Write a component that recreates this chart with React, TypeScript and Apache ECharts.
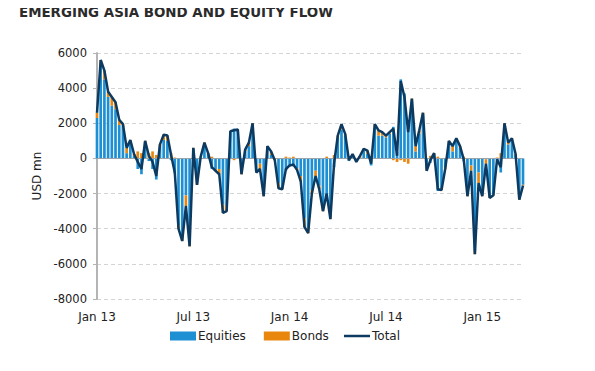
import React, { useEffect, useRef } from "react";
import * as echarts from "echarts";

const totalFlow = [
  2600, 5600, 5000, 3800, 3500, 3200, 2200, 1950, 600, 1050,
  250, -200, -600, 1000, 150, -200, -1000, 800, 1350, 1300,
  200, -800, -4000, -4700, -2700, -5000, 600, -1500, 100, 900,
  300, -500, -700, -900, -3100, -3000, 1550, 1600, 1650, -900,
  500, 900, 2000, -800, -600, -2150, 700, 400, -100, -1700,
  -1750, -600, -400, -350, -650, -1300, -3900, -4250, -2000, -1000,
  -1750, -3000, -2000, -3450, -300, 1300, 1950, 1400, -100, 250,
  -200, 150, 550, 450, -300, 1950, 1600, 1500, 1300, 1500,
  1700, 150, 4400, 3500, 1500, 3400, 700, 1600, 2600, -700,
  -100, 300, -1750, -1800, -600, 1000, 700, 1150, 700, -50,
  -2150, -700, -5450, -1400, -2150, -300, -2250, -2100, -50, -500,
  2000, 900, 1150, 250, -2350, -1550,
];

const bondFlow = [
  300, 300, 500, 300, 500, 400, 300, 100, 300, 100,
  100, 400, 300, 100, 300, 400, 200, 100, 300, 300,
  300, 50, -200, -200, -600, -300, 50, -100, 50, 100,
  50, 100, -100, -300, -500, -300, 50, -100, 50, -100,
  100, 200, 100, -100, -300, -200, 150, 200, -100, -300,
  -100, 100, 50, 100, -100, -300, -500, -300, -200, -300,
  -200, -400, 100, -100, 200, 100, 300, 100, 50, 50,
  -50, 100, 100, 200, 100, 200, 300, 200, 100, 100,
  -100, -200, -100, -200, -300, 100, 300, 200, 100, -100,
  150, 100, 100, -100, -100, 100, 300, 100, 100, 100,
  -100, -300, -200, -600, -100, -250, -100, -50, 50, 300,
  100, 100, 50, 50, -100, -50,
];

const equityFlow = [
  2300, 5300, 4500, 3500, 3000, 2800, 1900, 1850, 300, 950,
  150, -600, -900, 900, -150, -600, -1200, 700, 1050, 1000,
  -100, -850, -3800, -4500, -2100, -4700, 550, -1400, 50, 800,
  250, -600, -600, -600, -2600, -2700, 1500, 1700, 1600, -800,
  400, 700, 1900, -700, -300, -1950, 550, 200, 0, -1400,
  -1650, -700, -450, -450, -550, -1000, -3400, -3950, -1800, -700,
  -1550, -2600, -2100, -3350, -500, 1200, 1650, 1300, -150, 200,
  -150, 50, 450, 250, -400, 1750, 1300, 1300, 1200, 1400,
  1800, 350, 4500, 3700, 1800, 3300, 400, 1400, 2500, -600,
  -250, 200, -1850, -1700, -500, 900, 400, 1050, 600, -150,
  -2050, -400, -5250, -800, -2050, -50, -2150, -2050, -100, -800,
  1900, 800, 1100, 200, -2250, -1500,
];

const tickIndex = [0, 26, 52, 78, 104];
const tickLabels = ["Jan 13", "Jul 13", "Jan 14", "Jul 14", "Jan 15"];
const seriesNames = ["Equities", "Bonds", "Total"];

const FONT = "DejaVu Sans";
const legendText = { fontFamily: FONT, fontSize: 12, color: "#222", padding: [0, 0, 0, -3] };

export default function App() {
  const ref = useRef<HTMLDivElement>(null);
  useEffect(() => {
    if (!ref.current) return;
    const chart = echarts.init(ref.current, null, { renderer: "svg" });
    const categories = totalFlow.map((_, i) => String(i));
    chart.setOption({
      animation: false,
      backgroundColor: "#ffffff",
      title: {
        text: "EMERGING ASIA BOND AND EQUITY FLOW",
        left: 19,
        top: 5,
        padding: 0,
        textStyle: { fontFamily: FONT, fontSize: 13.4, fontWeight: "bold", color: "#2b2b2b", lineHeight: 14 },
      },
      legend: [
        {
          data: [seriesNames[0], seriesNames[1]],
          icon: "rect",
          left: 165,
          top: 325,
          itemWidth: 26,
          itemHeight: 9,
          itemGap: 18,
          textStyle: legendText,
        },
        {
          data: [seriesNames[2]],
          icon: "rect",
          left: 339,
          top: 325,
          itemWidth: 26,
          itemHeight: 2.5,
          textStyle: legendText,
        },
      ],
      grid: { left: 97, right: 72, top: 53, bottom: 72, containLabel: false },
      xAxis: {
        type: "category",
        data: categories,
        boundaryGap: false,
        axisLine: { show: false },
        axisTick: { show: false },
        splitLine: { show: false },
        axisLabel: {
          interval: (idx: number) => tickIndex.indexOf(idx) >= 0,
          formatter: (_v: string, idx: number) => {
            const k = tickIndex.indexOf(idx);
            return k >= 0 ? tickLabels[k] : "";
          },
          fontFamily: FONT,
          fontSize: 12,
          color: "#222",
          margin: 12,
        },
      },
      yAxis: {
        type: "value",
        min: -8000,
        max: 6000,
        interval: 2000,
        name: "USD mn",
        nameLocation: "middle",
        nameGap: 54,
        nameTextStyle: { fontFamily: FONT, fontSize: 12, color: "#222" },
        axisLine: { show: true, lineStyle: { color: "#b4b4b4", width: 2 } },
        axisTick: { show: true, length: 4, lineStyle: { color: "#b4b4b4" } },
        axisLabel: {
          fontFamily: FONT,
          fontSize: 11.5,
          color: "#222",
          margin: 10,
          formatter: (v: number) => String(v),
        },
        splitLine: { show: true, lineStyle: { color: "#d4d4d4", type: [4, 3], width: 1 } },
      },
      series: [
        {
          name: seriesNames[0],
          type: "bar",
          stack: "flow",
          data: equityFlow,
          barCategoryGap: "28%",
          itemStyle: { color: "#1d8fd3" },
          markLine: {
            silent: true,
            symbol: "none",
            label: { show: false },
            lineStyle: { color: "#9aa3ab", type: "solid", width: 1 },
            data: [{ yAxis: 0 }],
          },
        },
        {
          name: seriesNames[1],
          type: "bar",
          stack: "flow",
          data: bondFlow,
          barCategoryGap: "28%",
          itemStyle: { color: "#e8860e" },
        },
        {
          name: seriesNames[2],
          type: "line",
          data: totalFlow,
          symbol: "none",
          lineStyle: { color: "#0d3a60", width: 2.5 },
          itemStyle: { color: "#0d3a60" },
          z: 5,
        },
      ],
    });
    return () => chart.dispose();
  }, []);
  return <div ref={ref} style={{ width: 595, height: 371, marginLeft: -8, marginTop: -8 }} />;
}
